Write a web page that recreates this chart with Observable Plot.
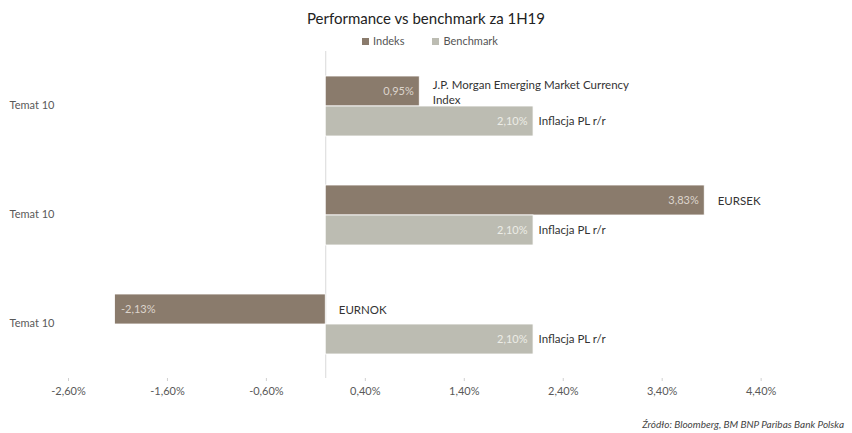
<!DOCTYPE html>
<html>
<head>
<meta charset="utf-8">
<script src="https://cdn.jsdelivr.net/npm/d3@7"></script>
<script src="https://cdn.jsdelivr.net/npm/@observablehq/plot@0.6"></script>
<style>
  html, body { margin: 0; padding: 0; background: #fff; }
  body { width: 852px; height: 433px; position: relative; overflow: hidden; font-family: Lato, "Open Sans", sans-serif; }
  #title { height: 30px; line-height: 30px; padding-top: 3px; text-align: center; font-size: 15px; color: #222; }
  #legend { height: 15px; line-height: 15px; text-align: center; font-size: 11px; color: #555; padding-left: 8px; }
  #legend .item { display: inline-block; margin: 0 14px; }
  #legend .sw { display: inline-block; width: 7px; height: 7px; margin-right: 4px; vertical-align: 0px; }
  #caption { position: absolute; right: 8px; top: 418px; line-height: 12px; font-size: 10px; font-style: italic; color: #444; }
</style>
</head>
<body>
<div id="title">Performance vs benchmark za 1H19</div>
<div id="legend"></div>
<div id="chart"></div>
<div id="caption">Źródło: Bloomberg, BM BNP Paribas Bank Polska</div>
<script>
// ---- data ----
const groups = ["Temat 10", "Temat 10", "Temat 10"];
const series = ["Indeks", "Benchmark"];
const seriesColors = ["#8a7b6c", "#bcbcb2"];
const indeksNames = ["J.P. Morgan Emerging Market Currency\nIndex", "EURSEK", "EURNOK"];
const indeksValues = [0.95, 3.83, -2.13];
const benchmarkNames = ["Inflacja PL r/r", "Inflacja PL r/r", "Inflacja PL r/r"];
const benchmarkValues = [2.10, 2.10, 2.10];
const xTicks = [-2.6, -1.6, -0.6, 0.4, 1.4, 2.4, 3.4, 4.4];
const xDomain = [-2.6, 5.0];

// ---- table ----
const rowsI = indeksValues.map((v, i) => ({g: i, series: "Indeks", value: v, name: indeksNames[i]}));
const rowsB = benchmarkValues.map((v, i) => ({g: i, series: "Benchmark", value: v, name: benchmarkNames[i]}));
const rows = rowsI.concat(rowsB);
const pct = v => v.toFixed(2).replace(".", ",") + "%";

// legend
document.getElementById("legend").innerHTML = series.map((s, i) =>
  `<span class="item"><span class="sw" style="background:${seriesColors[i]}"></span>${s}</span>`).join("");

const plot = Plot.plot({
  width: 852,
  height: 385,
  marginTop: 2,
  marginBottom: 55,
  marginLeft: 68,
  marginRight: 32,
  style: {fontFamily: "Lato, 'Open Sans', sans-serif", fontSize: "11px", background: "#fff"},
  x: {domain: xDomain},
  y: {domain: series, axis: null, paddingInner: 0, paddingOuter: 0.76},
  fy: {domain: groups.map((g, i) => i), padding: 0},
  color: {domain: series, range: seriesColors},
  marks: [
    Plot.ruleX([0], {stroke: "#d9d9d9"}),
    Plot.barX(rows, {x: "value", y: "series", fy: "g", fill: "series", stroke: "#ffffff", strokeWidth: 0.8}),
    // value labels inside bars
    Plot.text(rowsI.filter(d => d.value >= 0), {x: "value", y: "series", fy: "g", text: d => pct(d.value), textAnchor: "end", dx: -6, fill: "#ddd5cc", fontSize: 11}),
    Plot.text(rowsI.filter(d => d.value < 0), {x: "value", y: "series", fy: "g", text: d => pct(d.value), textAnchor: "start", dx: 6, fill: "#ddd5cc", fontSize: 11}),
    Plot.text(rowsB, {x: "value", y: "series", fy: "g", text: d => pct(d.value), textAnchor: "end", dx: -6, fill: "#ecece6", fontSize: 11}),
    // name labels
    Plot.text(rowsI, {x: d => Math.max(0, d.value), y: "series", fy: "g", text: "name", textAnchor: "start", dx: 13, fill: "#333", fontSize: 11.5, lineHeight: 1.3}),
    Plot.text(rowsB, {x: d => Math.max(0, d.value), y: "series", fy: "g", text: "name", textAnchor: "start", dx: 5, fill: "#333", fontSize: 11.5}),
    // axes
    Plot.axisX({ticks: xTicks, tickFormat: pct, tickSize: 3, tickPadding: 6, line: true, stroke: "#d0d0d0", fill: "#595959", fontSize: 11, label: null}),
    Plot.axisFy({anchor: "left", tickSize: 0, tickFormat: i => groups[i], textAnchor: "start", dx: -50, dy: -1, fill: "#595959", fontSize: 11, label: null})
  ]
});
document.getElementById("chart").appendChild(plot);
</script>
</body>
</html>
